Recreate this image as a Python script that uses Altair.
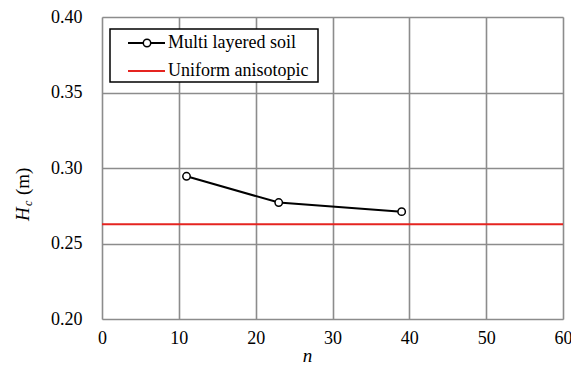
import altair as alt
import pandas as pd

# data
n_vals = [11, 23, 39]
hc_vals = [0.2945, 0.2771, 0.2711]
uniform_hc = [0.2627]
x_ticks = [0, 10, 20, 30, 40, 50, 60]
y_ticks = [0.20, 0.25, 0.30, 0.35, 0.40]
legend_labels = ["Multi layered soil", "Uniform anisotopic"]

FONT = "Times New Roman, Liberation Serif, DejaVu Serif, serif"
GRID = "#8c8c8c"
RED = "#e52420"
FS = 18

df = pd.DataFrame({"n": n_vals, "hc": hc_vals})
df_u = pd.DataFrame({"hc": uniform_hc})
one = pd.DataFrame({"a": [0]})

x_enc = alt.X(
    "n:Q",
    scale=alt.Scale(domain=[0, 60], nice=False),
    axis=alt.Axis(
        values=x_ticks, title="n", titleFontStyle="italic", titleFont=FONT,
        titleFontSize=19, titleFontWeight="normal", titleX=205, titleY=42,
        titleBaseline="alphabetic", titleColor="black",
        labelFont=FONT, labelFontSize=FS, labelColor="black", labelPadding=10,
        ticks=False, tickSize=0, domain=False, grid=True, gridColor=GRID,
        gridWidth=1.6, labelFlush=False,
    ),
)
y_enc = alt.Y(
    "hc:Q",
    scale=alt.Scale(domain=[0.2, 0.4], nice=False, zero=False),
    axis=alt.Axis(
        values=y_ticks, format=".2f", title=None,
        labelFont=FONT, labelFontSize=FS, labelColor="black", labelPadding=20,
        ticks=False, tickSize=0, domain=False, grid=True, gridColor=GRID,
        gridWidth=1.6,
    ),
)

line = alt.Chart(df).mark_line(color="black", strokeWidth=2).encode(x=x_enc, y=y_enc)
pts = alt.Chart(df).mark_point(
    shape="circle", filled=True, fill="white", stroke="black", strokeWidth=1.5,
    size=55, opacity=1,
).encode(x="n:Q", y="hc:Q")
red = alt.Chart(df_u).mark_rule(color=RED, strokeWidth=2).encode(y="hc:Q")

# legend (decoration)
box = alt.Chart(one).mark_rect(fill="white", stroke="black", strokeWidth=1.5).encode(
    x=alt.value(8), x2=alt.value(216), y=alt.value(12), y2=alt.value(65)
)
leg_l1 = alt.Chart(one).mark_rule(color="black", strokeWidth=2).encode(
    x=alt.value(26), x2=alt.value(63), y=alt.value(26)
)
leg_p1 = alt.Chart(one).mark_point(
    shape="circle", filled=True, fill="white", stroke="black", strokeWidth=1.5,
    size=55, opacity=1,
).encode(x=alt.value(45), y=alt.value(26))
leg_l2 = alt.Chart(one).mark_rule(color=RED, strokeWidth=2).encode(
    x=alt.value(26), x2=alt.value(63), y=alt.value(54)
)
leg_t1 = alt.Chart(one).mark_text(
    font=FONT, fontSize=FS, align="left", baseline="middle", color="black"
).encode(x=alt.value(66), y=alt.value(26), text=alt.value(legend_labels[0]))
leg_t2 = alt.Chart(one).mark_text(
    font=FONT, fontSize=FS, align="left", baseline="middle", color="black"
).encode(x=alt.value(66), y=alt.value(54), text=alt.value(legend_labels[1]))

# y-axis title H_c (m), rotated
yt_h = alt.Chart(one).mark_text(
    font=FONT, fontSize=19, fontStyle="italic", align="left", baseline="alphabetic",
    angle=270, color="black",
).encode(x=alt.value(-73), y=alt.value(204), text=alt.value("H"))
yt_c = alt.Chart(one).mark_text(
    font=FONT, fontSize=12, fontStyle="italic", align="left", baseline="alphabetic",
    angle=270, color="black",
).encode(x=alt.value(-70), y=alt.value(189), text=alt.value("c"))
yt_m = alt.Chart(one).mark_text(
    font=FONT, fontSize=19, align="left", baseline="alphabetic",
    angle=270, color="black",
).encode(x=alt.value(-73), y=alt.value(178), text=alt.value("(m)"))

chart = alt.layer(
    line, red, pts, box, leg_l1, leg_l2, leg_p1, leg_t1, leg_t2, yt_h, yt_c, yt_m
).properties(
    width=461, height=302,
    autosize=alt.AutoSizeParams(type="none"),
    padding={"left": 94, "top": 9, "right": 8, "bottom": 47},
).configure_view(stroke=GRID, strokeWidth=2).configure(background="white")

chart.save("out.html", embed_options={"renderer": "svg", "actions": False})
